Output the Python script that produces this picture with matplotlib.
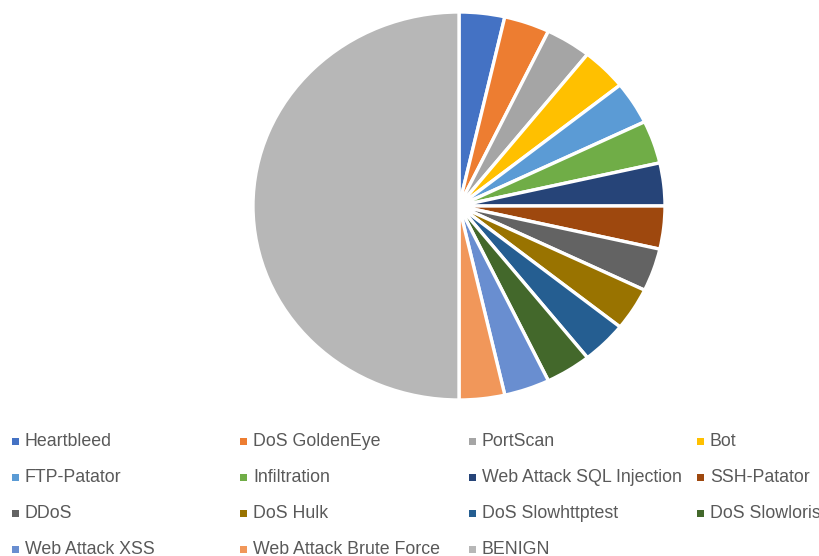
import matplotlib
matplotlib.use("Agg")
from matplotlib import pyplot as plt
from matplotlib.patches import Rectangle

labels = ["Heartbleed", "DoS GoldenEye", "PortScan", "Bot",
          "FTP-Patator", "Infiltration", "Web Attack SQL Injection", "SSH-Patator",
          "DDoS", "DoS Hulk", "DoS Slowhttptest", "DoS Slowloris",
          "Web Attack XSS", "Web Attack Brute Force", "BENIGN"]
# each attack class has the same share, BENIGN is half of the total
counts = [1, 1, 1, 1, 1, 1, 1, 1, 1, 1, 1, 1, 1, 1, 14]
colors = ["#4472C4", "#ED7D31", "#A5A5A5", "#FFC000",
          "#5B9BD5", "#70AD47", "#264478", "#9E480E",
          "#636363", "#997300", "#255E91", "#43682B",
          "#698ED0", "#F1975A", "#B7B7B7"]

W, H = 820, 556
fig = plt.figure(figsize=(W / 100, H / 100), dpi=100)
fig.patch.set_facecolor("white")

# pie area in pixels: x 253..665, y 12..400
ax = fig.add_axes([253 / W, 1 - 400 / H, 412 / W, 388 / H])
ax.pie(counts, colors=colors, startangle=90, counterclock=False,
       wedgeprops=dict(edgecolor="white", linewidth=2.4))
ax.set_aspect("auto")
ax.set_xlim(-1, 1)
ax.set_ylim(-1, 1)
ax.axis("off")

# legend, 4 columns
col_x = [12, 240, 469, 697]
row_y = [441, 477, 513, 549]
for i, (lab, c) in enumerate(zip(labels, colors)):
    x = col_x[i % 4]
    y = row_y[i // 4]
    fig.patches.append(Rectangle((x / W, 1 - (y + 3.5) / H), 7 / W, 7 / H,
                                 transform=fig.transFigure, facecolor=c,
                                 edgecolor="none"))
    fig.text((x + 13) / W, 1 - y / H, lab, fontsize=12.8,
             family="Liberation Sans", color="#595959", va="center", ha="left")

fig.savefig("out.png", dpi=100)
